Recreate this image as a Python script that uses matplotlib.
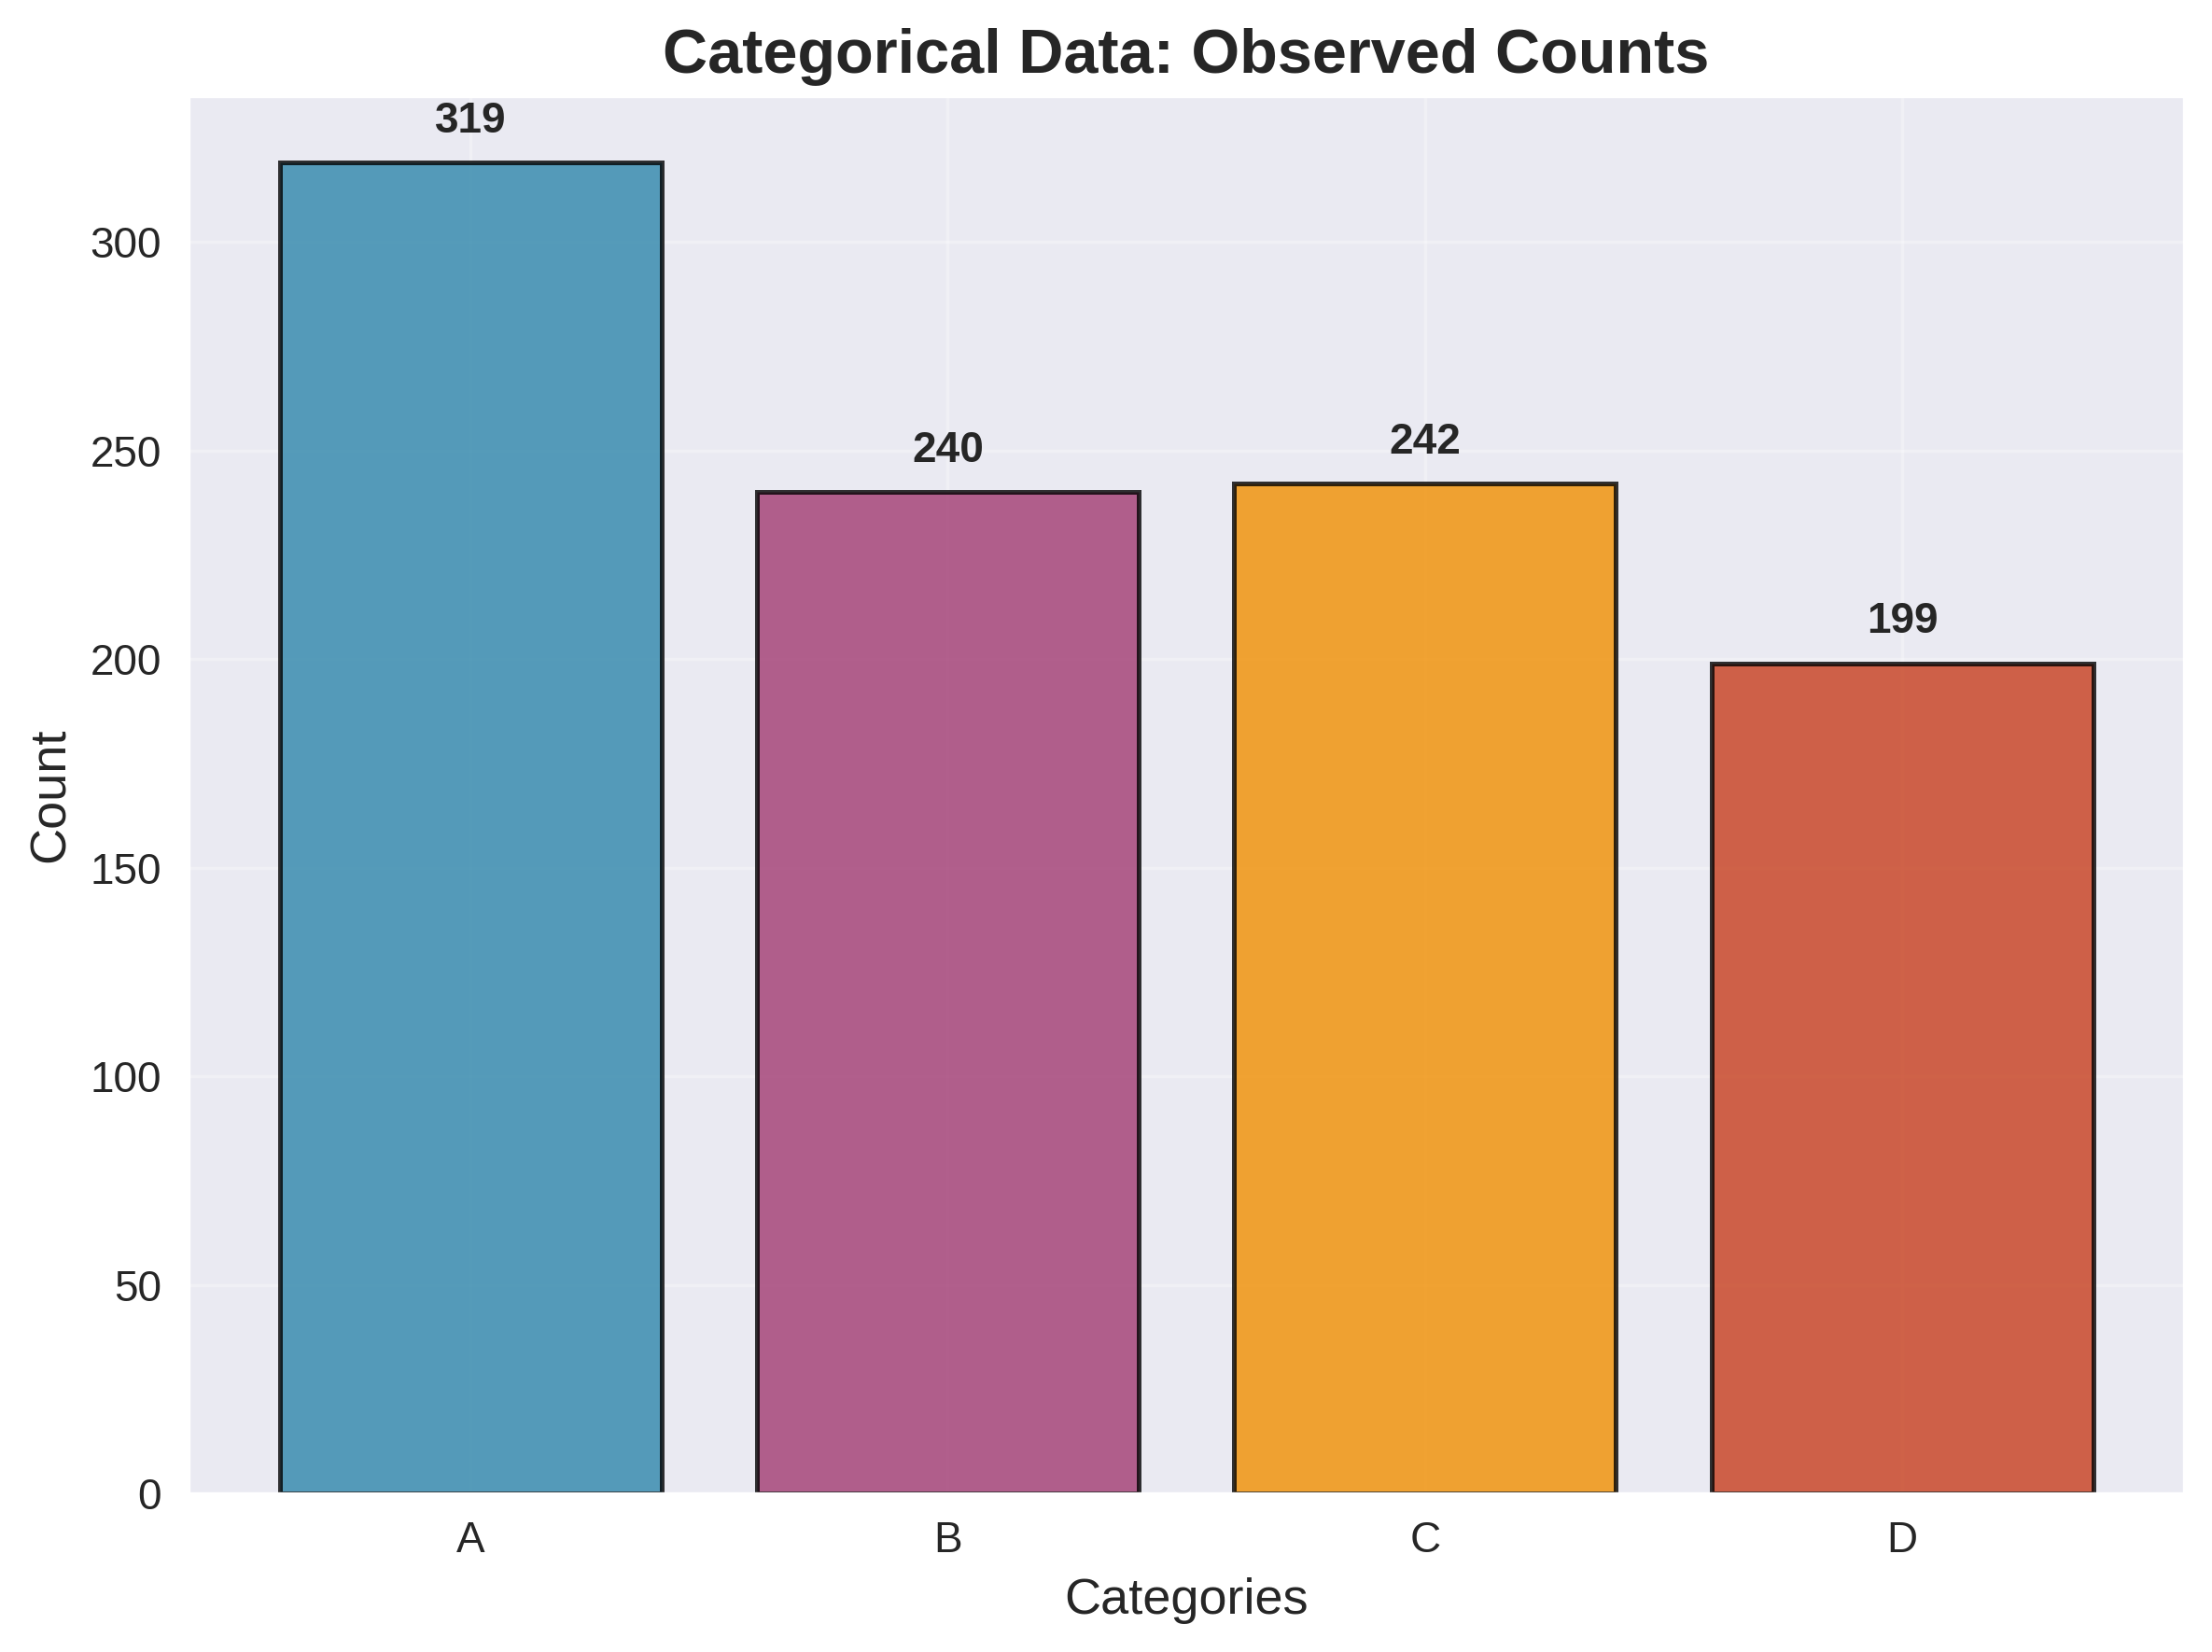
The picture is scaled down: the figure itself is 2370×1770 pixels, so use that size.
import matplotlib
matplotlib.use("Agg")
import matplotlib.pyplot as plt
import seaborn as sns

categories = ["A", "B", "C", "D"]
counts = [319, 240, 242, 199]
colors = ["#2E86AB", "#A23B72", "#F18F01", "#C73E1D"]

sns.set_style("darkgrid")
plt.rcParams['font.family'] = ['Liberation Sans', 'DejaVu Sans']

fig, ax = plt.subplots(figsize=(8, 6), dpi=300)
bars = ax.bar(categories, counts, color=colors, alpha=0.8, edgecolor="black", linewidth=1.2)
for b, v in zip(bars, counts):
    ax.text(b.get_x() + b.get_width() / 2, v + 5, str(v), ha="center", va="bottom",
            fontweight="bold", fontsize=11)
ax.set_title("Categorical Data: Observed Counts", fontsize=16, fontweight="bold")
ax.set_xlabel("Categories", fontsize=13)
ax.set_ylabel("Count", fontsize=13)
ax.tick_params(labelsize=11)
ax.grid(True, alpha=0.3)
fig.tight_layout()
fig.savefig("out.png", dpi=300, bbox_inches="tight")
